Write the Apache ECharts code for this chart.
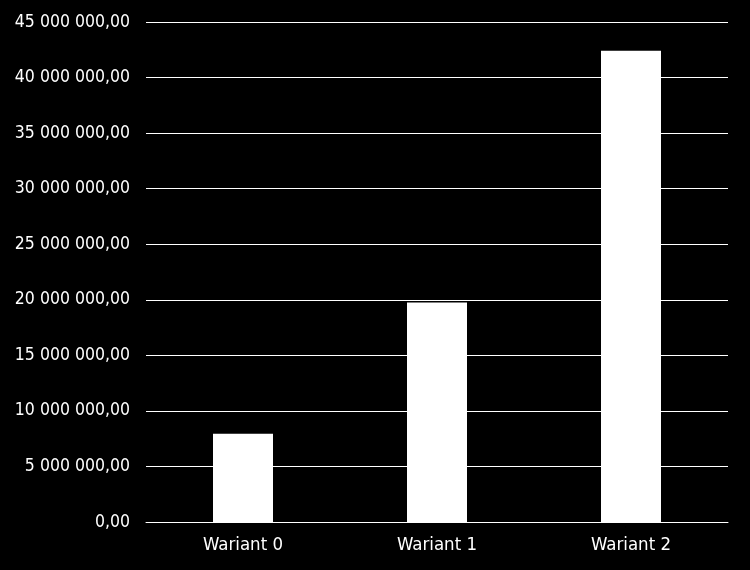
<!DOCTYPE html>
<html>
<head>
<meta charset="utf-8">
<script src="https://cdn.jsdelivr.net/npm/echarts@6/dist/echarts.min.js"></script>
<style>
html,body{margin:0;padding:0;background:#000;}
#c{width:750px;height:570px;}
</style>
</head>
<body>
<div id="c"></div>
<script>
const categories = ["Wariant 0", "Wariant 1", "Wariant 2"];
const values = [7950000, 19760000, 42420000];
const yMin = 0, yMax = 45000000, yStep = 5000000;

function fmt(v) {
  const parts = Math.round(v).toString().replace(/\B(?=(\d{3})+(?!\d))/g, " ");
  return parts + ",00";
}

const chart = echarts.init(document.getElementById('c'));
chart.setOption({
  backgroundColor: '#000',
  animation: false,
  textStyle: { fontFamily: 'DejaVu Sans Condensed' },
  grid: { left: 146, right: 22, top: 22, bottom: 48, containLabel: false },
  xAxis: {
    type: 'category',
    data: categories,
    axisLine: { show: true, lineStyle: { color: '#fff', width: 1 } },
    axisTick: { show: false },
    axisLabel: { color: '#fff', fontSize: 18.5, margin: 14, fontFamily: 'DejaVu Sans Condensed' }
  },
  yAxis: {
    type: 'value',
    min: yMin, max: yMax, interval: yStep,
    axisLine: { show: false },
    axisTick: { show: false },
    splitLine: { lineStyle: { color: '#fff', width: 1 } },
    axisLabel: { color: '#fff', fontSize: 17.5, margin: 16, formatter: fmt, fontFamily: 'DejaVu Sans Condensed' }
  },
  series: [{
    type: 'bar',
    data: values,
    barWidth: 60,
    itemStyle: { color: '#fff' }
  }]
});
</script>
</body>
</html>
